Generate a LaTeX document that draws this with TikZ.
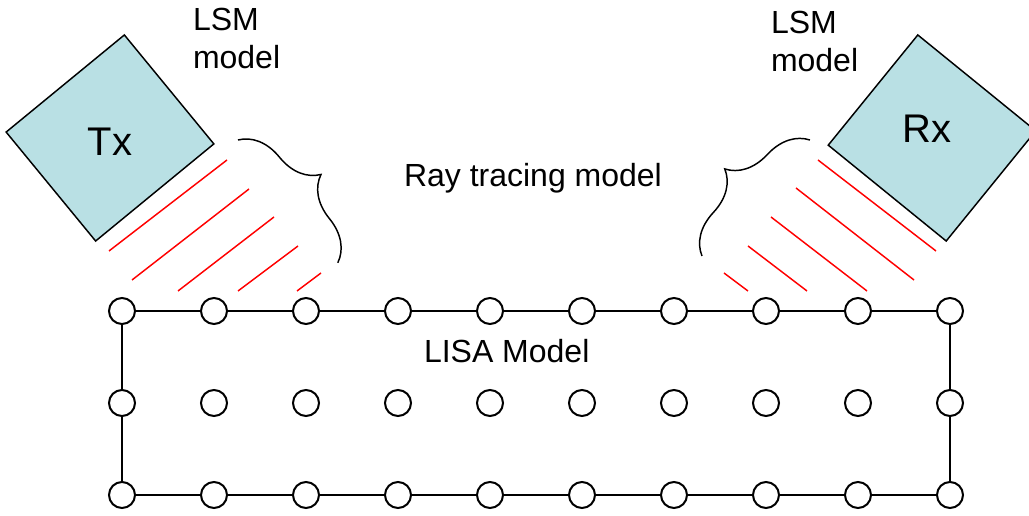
\documentclass[tikz,border=0pt]{standalone}
\usepackage{fontspec}
\setmainfont{Liberation Sans}
\usetikzlibrary{decorations.pathreplacing}
\definecolor{boxfill}{RGB}{185,224,228}

\begin{document}
\begin{tikzpicture}[x=0.75pt,y=0.75pt,line width=1.5pt]
    \tikzstyle{site}=[circle, draw, fill=white, minimum size=19.5pt, inner sep=0pt]
    \tikzstyle{antenna}=[rectangle, draw, line width=1.1pt, fill=boxfill]
    \tikzstyle{ray}=[red, line width=1.1pt]
    \tikzstyle{curly}=[draw, line width=1.1pt, decorate, decoration={brace, amplitude=32pt}]
    \tikzstyle{modeltext}=[inner sep=0pt, font=\fontsize{24}{28.8}\selectfont]
    \tikzstyle{boxtext}=[inner sep=0pt, font=\fontsize{30}{36}\selectfont]

    \useasboundingbox (0,0) rectangle (1029,516);

    % transmitter and receiver
    \node[antenna, minimum width=114.75pt, minimum height=105.75pt, rotate=39.4] (tx) at (110,378) {};
    \node[antenna, minimum width=114pt, minimum height=106.5pt, rotate=-39.1] (rx) at (932,378) {};
    \node[boxtext] (txlabel) at (110,374) {Tx};
    \node[boxtext] (rxlabel) at (927,387) {Rx};

    % rays
    \foreach \xa/\ya/\xb/\yb in {109/265/227/356, 132/236/249/327, 178/225/274/299,
                                 238/225/298/270, 297/225/321/243,
                                 818/356/936/265, 796/328/914/236, 771/299/867/225,
                                 748/270/807/225, 724/243/748/225}
        \draw[ray] (\xa,\ya) -- (\xb,\yb);

    % braces
    \coordinate (txtop) at (238,376);
    \coordinate (txbot) at (338,253);
    \coordinate (rxtop) at (810,376);
    \coordinate (rxbot) at (702,260);
    \draw[curly] (txtop) -- (txbot);
    \draw[curly] (rxbot) -- (rxtop);

    % labels
    \node[modeltext, anchor=north west, align=left] (lsmtx) at (192,509) {LSM\\model};
    \node[modeltext, anchor=north west, align=left] (lsmrx) at (770,506) {LSM\\model};
    \node[modeltext, anchor=base west] (ray) at (403,329) {Ray tracing model};
    \node[modeltext, anchor=base west] (lisa) at (423,153) {LISA Model};

    % LISA grid
    \foreach \c in {0,...,9}
        \foreach \r in {1,2,3}
            \node[site] (s-\r-\c) at ({122+92*\c},{297-92*\r}) {};
    \foreach \c [evaluate=\c as \n using int(\c+1)] in {0,...,8} {
        \draw (s-1-\c) -- (s-1-\n);
        \draw (s-3-\c) -- (s-3-\n);
    }
    \draw (s-1-0) -- (s-2-0) -- (s-3-0);
    \draw (s-1-9) -- (s-2-9) -- (s-3-9);

\end{tikzpicture}
\end{document}
